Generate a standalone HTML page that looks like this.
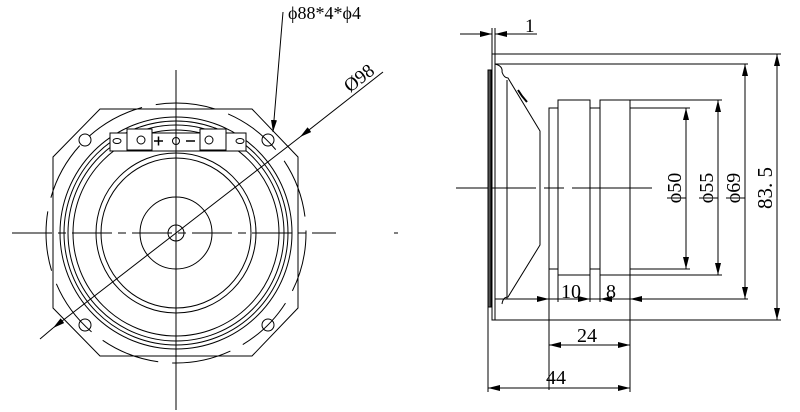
<!DOCTYPE html>
<html><head><meta charset="utf-8"><style>html,body{margin:0;padding:0;background:#fff}svg{display:block}</style></head>
<body>
<svg width="800" height="412" viewBox="0 0 800 412" xmlns="http://www.w3.org/2000/svg" font-family="Liberation Serif, serif" fill="none" stroke="#000" stroke-width="1">
<defs>
<marker id="a" viewBox="0 0 12 6" refX="12" refY="3" markerWidth="12" markerHeight="6" orient="auto-start-reverse" markerUnits="userSpaceOnUse"><path d="M0,0L12,3L0,6z" fill="#000" stroke="none"/></marker>
</defs>
<!-- FRONT VIEW -->
<line x1="176" y1="70" x2="176" y2="410"/>
<line x1="12" y1="233" x2="336" y2="233" stroke-dasharray="40,6,8,6"/>
<line x1="394" y1="233" x2="398" y2="233"/>
<polygon points="100,109 252,109 298,157 298,308 252,356 100,356 53,308 53,157"/>
<circle cx="176" cy="233" r="130" stroke-dasharray="60,14"/>
<circle cx="176" cy="233" r="116"/>
<circle cx="176" cy="233" r="112"/>
<circle cx="176" cy="233" r="108"/>
<circle cx="176" cy="233" r="103"/>
<circle cx="176" cy="233" r="80"/>
<circle cx="176" cy="233" r="75"/>
<circle cx="176" cy="233" r="36"/>
<circle cx="176" cy="233" r="8"/>
<circle cx="85" cy="140" r="6"/><circle cx="268" cy="140" r="6"/>
<circle cx="85" cy="325" r="6"/><circle cx="268" cy="325" r="6"/>
<!-- terminal -->
<rect x="110" y="133" width="136" height="18" fill="#fff"/>
<rect x="127" y="129" width="25" height="21" fill="#fff"/>
<rect x="200" y="129" width="26" height="21" fill="#fff"/>
<ellipse cx="117" cy="141" rx="4" ry="2.5"/><ellipse cx="240" cy="141" rx="4" ry="2.5"/>
<circle cx="141" cy="140" r="4"/><circle cx="209" cy="140" r="4"/>
<circle cx="176" cy="141" r="3.5"/>
<line x1="176" y1="120" x2="176" y2="155"/>
<path d="M154,141h9M158.5,136.5v9M186,141h9" stroke-width="1.5"/>
<!-- leaders -->
<line x1="283" y1="12" x2="273" y2="132" marker-end="url(#a)"/>
<text x="288" y="19" font-size="18" fill="#000" stroke="none">ϕ88*4*ϕ4</text>
<line x1="383" y1="72" x2="300" y2="137" marker-end="url(#a)"/>
<line x1="176" y1="233" x2="300" y2="137"/>
<line x1="176" y1="233" x2="53" y2="328" marker-end="url(#a)"/>
<line x1="53" y1="328" x2="40" y2="339"/>
<text x="0" y="0" font-size="19" fill="#000" stroke="none" transform="translate(350,93) rotate(-38)">Ø98</text>
<!-- SIDE VIEW -->
<line x1="456" y1="188" x2="654" y2="188" stroke-dasharray="80,8,20,8"/>
<rect x="492" y="54" width="3" height="266"/>
<rect x="488" y="70" width="3" height="237" fill="#555"/>
<line x1="495" y1="54" x2="781" y2="54"/><line x1="495" y1="320" x2="781" y2="320"/>
<line x1="495" y1="64" x2="748" y2="64"/><line x1="495" y1="299" x2="748" y2="299"/>
<path d="M495,64 Q503,66 502,72 Q504,78 508,78 L540,131 L540,245 L508,297 Q503,297 502,304"/>
<line x1="507" y1="80" x2="507" y2="299"/>
<path d="M518,90 L522,96 L527,102" stroke-width="2"/>
<rect x="549" y="108" width="9" height="161"/>
<rect x="558" y="100" width="32" height="175"/>
<rect x="590" y="108" width="10" height="161"/>
<rect x="600" y="100" width="30" height="175"/>
<line x1="630" y1="100" x2="722" y2="100"/><line x1="630" y1="275" x2="722" y2="275"/>
<line x1="630" y1="108" x2="690" y2="108"/><line x1="630" y1="269" x2="690" y2="269"/>
<line x1="686" y1="108" x2="686" y2="269" marker-start="url(#a)" marker-end="url(#a)"/>
<line x1="718" y1="100" x2="718" y2="275" marker-start="url(#a)" marker-end="url(#a)"/>
<line x1="745" y1="64" x2="745" y2="299" marker-start="url(#a)" marker-end="url(#a)"/>
<line x1="777" y1="54" x2="777" y2="320" marker-start="url(#a)" marker-end="url(#a)"/>
<g fill="#000" stroke="none" font-size="20">
<text transform="translate(686,188) rotate(-90)" text-anchor="middle" dy="-5">ϕ50</text>
<text transform="translate(718,188) rotate(-90)" text-anchor="middle" dy="-5">ϕ55</text>
<text transform="translate(745,188) rotate(-90)" text-anchor="middle" dy="-5">ϕ69</text>
<text transform="translate(777,188) rotate(-90)" text-anchor="middle" dy="-5" font-size="21">83. 5</text>
</g>
<!-- 1 -->
<line x1="492" y1="28" x2="492" y2="54"/><line x1="495" y1="28" x2="495" y2="54"/>
<line x1="460" y1="34" x2="492" y2="34" marker-end="url(#a)"/>
<line x1="512" y1="34" x2="495" y2="34" marker-end="url(#a)"/>
<line x1="512" y1="34" x2="537" y2="34"/>
<text x="525" y="32" font-size="19" fill="#000" stroke="none">1</text>
<!-- 10 / 8 -->
<line x1="549" y1="269" x2="549" y2="390"/><line x1="558" y1="275" x2="558" y2="302"/>
<line x1="590" y1="275" x2="590" y2="302"/><line x1="600" y1="275" x2="600" y2="302"/>
<line x1="630" y1="275" x2="630" y2="392"/>
<line x1="528" y1="299" x2="549" y2="299" marker-end="url(#a)"/>
<line x1="549" y1="299" x2="660" y2="299"/>
<line x1="580" y1="299" x2="590" y2="299" marker-end="url(#a)"/>
<line x1="610" y1="299" x2="600" y2="299" marker-end="url(#a)"/>
<line x1="660" y1="299" x2="630" y2="299" marker-end="url(#a)"/>
<text x="561" y="298" font-size="20" fill="#000" stroke="none">10</text>
<text x="606" y="298" font-size="20" fill="#000" stroke="none">8</text>
<!-- 24 -->
<line x1="549" y1="345" x2="630" y2="345" marker-start="url(#a)" marker-end="url(#a)"/>
<text x="577" y="342" font-size="20" fill="#000" stroke="none">24</text>
<!-- 44 -->
<line x1="488" y1="307" x2="488" y2="392"/>
<line x1="488" y1="388" x2="630" y2="388" marker-start="url(#a)" marker-end="url(#a)"/>
<text x="546" y="384" font-size="20" fill="#000" stroke="none">44</text>
</svg>
</body></html>
